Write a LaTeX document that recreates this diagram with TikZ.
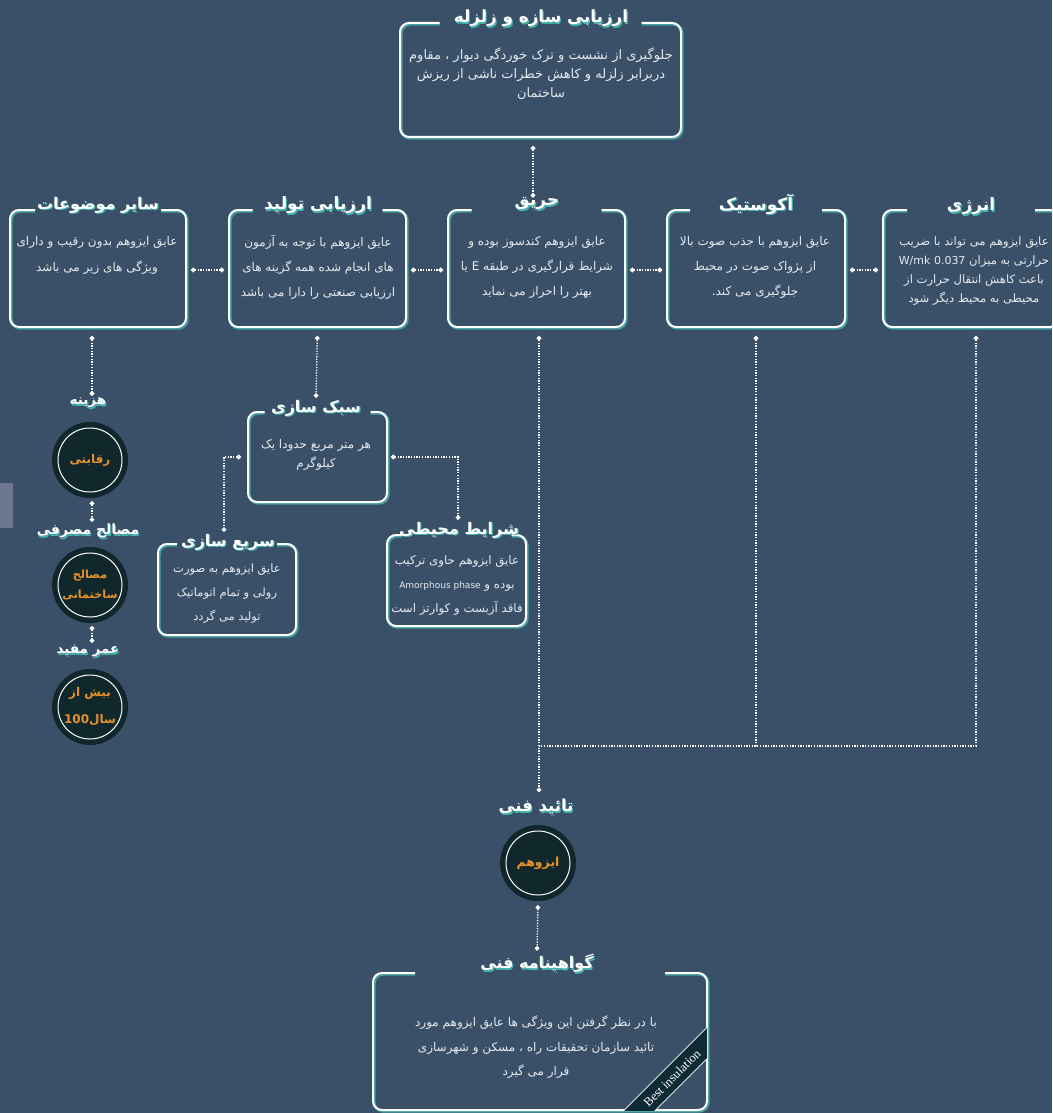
\documentclass[tikz,border=0pt]{standalone}
\usepackage{fontspec}
\usetikzlibrary{calc,arrows.meta}
\TeXXeTstate=1
\newfontfamily\arabicfont[Script=Arabic]{DejaVu Sans}
\newfontfamily\serifen{Liberation Serif}
\newcommand\fa[1]{\beginR #1\endR}
\definecolor{bg}{HTML}{3A5069}
\definecolor{glow}{HTML}{45B3AE}
\definecolor{circ}{HTML}{10282C}
\definecolor{orng}{HTML}{E8922B}
\definecolor{txt}{HTML}{E4EAEE}
\definecolor{graybar}{HTML}{6E7690}
\definecolor{ribbon}{HTML}{0E2A33}
\tikzset{
  boxn/.style={rectangle, inner sep=0pt, outer sep=0pt},
  frameglow/.style={draw=glow, line width=3pt, rounded corners=9pt, opacity=0.8},
  framew/.style={draw=white, line width=2pt, rounded corners=9pt},
  body/.style={font=\arabicfont\fontsize{12}{25}\selectfont, text=txt, align=center, inner sep=0pt},
  ttlstyle/.style={font=\arabicfont\bfseries\fontsize{16}{18}\selectfont, text=white, inner sep=1pt},
  ttlshadow/.style={font=\arabicfont\bfseries\fontsize{16}{18}\selectfont, text=glow, inner sep=1pt},
  conn/.style={draw=white, line width=1.3pt, dash pattern=on 1.3pt off 1.4pt},
  dotboth/.style={{Circle[length=4.5pt]}-{Circle[length=4.5pt]}},
  dotstart/.style={{Circle[length=4.5pt]}-},
  circn/.style={circle, fill=circ, minimum size=76pt, inner sep=0pt, text=orng, align=center,
    font=\arabicfont\bfseries\fontsize{12}{22}\selectfont,
    path picture={\draw[white, line width=1pt] (path picture bounding box.center) circle (32pt);}},
  ribbonst/.style={fill=ribbon, draw=white, line width=0.7pt, minimum width=220pt, minimum height=22pt,
    inner sep=0pt, text=white, font=\serifen\fontsize{12.5}{13}\selectfont}
}
\newcommand\gframe[2]{%
  \draw[frameglow] ($(#1.north)+(-#2,1.2)$) -- ($(#1.north west)+(1.2,1.2)$) -- ($(#1.south west)+(1.2,1.2)$) -- ($(#1.south east)+(1.2,1.2)$) -- ($(#1.north east)+(1.2,1.2)$) -- ($(#1.north)+(#2,1.2)$);
  \draw[framew] ($(#1.north)+(-#2,0)$) -- (#1.north west) -- (#1.south west) -- (#1.south east) -- (#1.north east) -- ($(#1.north)+(#2,0)$);
}
\newcommand\ttl[4][]{%
  \node[ttlshadow,#1] at ($(#3)+(1.2,1.8)$) {#4};
  \node[ttlstyle,#1] (#2) at (#3) {#4};
}
\begin{document}
\begin{tikzpicture}[x=1pt,y=-1pt]
\clip (0,0) rectangle (1052,1113);
\fill[bg] (0,0) rectangle (1052,1113);
\fill[graybar] (0,483) rectangle (13,528);

% ---------- boxes ----------
\node[boxn, minimum width=281pt, minimum height=114pt] (top) at (540.5,80) {};
\node[boxn, minimum width=176pt, minimum height=117pt] (b1) at (98,268.5) {};
\node[boxn, minimum width=177pt, minimum height=117pt] (b2) at (317.5,268.5) {};
\node[boxn, minimum width=177pt, minimum height=117pt] (b3) at (536.5,268.5) {};
\node[boxn, minimum width=178pt, minimum height=117pt] (b4) at (756,268.5) {};
\node[boxn, minimum width=176pt, minimum height=117pt] (b5) at (971,268.5) {};
\node[boxn, minimum width=139pt, minimum height=90pt] (sabok) at (317.5,457) {};
\node[boxn, minimum width=138pt, minimum height=91pt] (sari) at (227,589.5) {};
\node[boxn, minimum width=139pt, minimum height=91pt] (shar) at (456.5,580.5) {};
\node[boxn, minimum width=334pt, minimum height=137pt] (gbox) at (540,1041.5) {};

\gframe{top}{101}
\gframe{b1}{63}
\gframe{b2}{65}
\gframe{b3}{65}
\gframe{b4}{66}
\gframe{b5}{64}
\gframe{sabok}{53}
\gframe{sari}{50}
\gframe{shar}{55}
\gframe{gbox}{125}

% ---------- titles ----------
\ttl[font=\arabicfont\bfseries\fontsize{16.8}{19}\selectfont]{ttop}{541,18}{\beginR ارزیابی سازه و زلزله\endR}
\ttl{t1}{98,205}{\beginR سایر موضوعات\endR}
\ttl[font=\arabicfont\bfseries\fontsize{17}{19}\selectfont]{t2}{318,205}{\beginR ارزیابی تولید\endR}
\ttl[font=\arabicfont\bfseries\fontsize{17}{19}\selectfont]{t3}{537,204}{\beginR حریق\endR}
\ttl[font=\arabicfont\bfseries\fontsize{17}{19}\selectfont]{t4}{756,204}{\beginR آکوستیک\endR}
\ttl[font=\arabicfont\bfseries\fontsize{17}{19}\selectfont]{t5}{971,206}{\beginR انرژی\endR}
\ttl{tsabok}{316,408}{\beginR سبک سازی\endR}
\ttl{tsari}{228,542}{\beginR سریع سازی\endR}
\ttl{tshar}{459,530}{\beginR شرایط محیطی\endR}
\ttl[font=\arabicfont\bfseries\fontsize{13.5}{16}\selectfont]{thz}{88,403}{\beginR هزینه\endR}
\ttl[font=\arabicfont\bfseries\fontsize{14}{16}\selectfont]{tmm}{88,531}{\beginR مصالح مصرفی\endR}
\ttl[font=\arabicfont\bfseries\fontsize{13.5}{16}\selectfont]{tum}{88,651}{\beginR عمر مفید\endR}
\ttl[font=\arabicfont\bfseries\fontsize{16.5}{18}\selectfont]{ttaeed}{536,807}{\beginR تائید فنی\endR}
\ttl[font=\arabicfont\bfseries\fontsize{16}{18}\selectfont]{tgv}{537,963}{\beginR گواهینامه فنی\endR}

% ---------- body texts ----------
\node[body, font=\arabicfont\fontsize{13}{19}\selectfont] (xtop) at (541,73.5)
  {\beginR جلوگیری از نشست و ترک خوردگی دیوار ، مقاوم\endR\\\beginR دربرابر زلزله و کاهش خطرات ناشی از ریزش\endR\\\beginR ساختمان\endR};
\node[body, font=\arabicfont\fontsize{12}{26}\selectfont] (x1) at (97,255)
  {\beginR عایق ایزوهم بدون رقیب و دارای\endR\\\beginR ویژگی های زیر می باشد\endR};
\node[body] (x2) at (318,267)
  {\beginR عایق ایزوهم با توجه به آزمون\endR\\\beginR های انجام شده همه گزینه های\endR\\\beginR ارزیابی صنعتی را دارا می باشد\endR};
\node[body] (x3) at (537,267)
  {\beginR عایق ایزوهم کندسوز بوده و\endR\\\beginR شرایط قرارگیری در طبقه \beginL E\endL{} یا\endR\\\beginR بهتر را احراز می نماید\endR};
\node[body] (x4) at (755,267)
  {\beginR عایق ایزوهم با جذب صوت بالا\endR\\\beginR از پژواک صوت در محیط\endR\\\beginR جلوگیری می کند.\endR};
\node[body, font=\arabicfont\fontsize{11.6}{19.3}\selectfont] (x5) at (974,271)
  {\beginR عایق ایزوهم می تواند با ضریب\endR\\\beginR حرارتی به میزان \beginL{\fontsize{11}{19.3}\selectfont W/mk 0.037}\endL\endR\\\beginR باعث کاهش انتقال حرارت از\endR\\\beginR محیطی به محیط دیگر شود\endR};
\node[body, font=\arabicfont\fontsize{12}{19}\selectfont] (xsabok) at (316,454.5)
  {\beginR هر متر مربع حدودا یک\endR\\\beginR کیلوگرم\endR};
\node[body, font=\arabicfont\fontsize{11.5}{24}\selectfont] (xsari) at (227,594)
  {\beginR عایق ایزوهم به صورت\endR\\\beginR رولی و تمام اتوماتیک\endR\\\beginR تولید می گردد\endR};
\node[body, font=\arabicfont\fontsize{11.8}{24}\selectfont] (xshar) at (457,585)
  {\beginR عایق ایزوهم حاوی ترکیب\endR\\\beginR بوده و \beginL{\fontsize{9}{24}\selectfont Amorphous phase}\endL\endR\\\beginR فاقد آزبست و کوارتز است\endR};
\node[body, font=\arabicfont\fontsize{12}{24.5}\selectfont] (xg) at (536,1047.5)
  {\beginR با در نظر گرفتن این ویژگی ها عایق ایزوهم مورد\endR\\\beginR تائید سازمان تحقیقات راه ، مسکن و شهرسازی\endR\\\beginR قرار می گیرد\endR};

% ---------- circles ----------
\node[circn] (c1) at (90,460) {\beginR رقابتی\endR};
\node[circn, font=\arabicfont\bfseries\fontsize{11.2}{20}\selectfont] (c2) at (90,585) {\beginR مصالح\endR\\\beginR ساختمانی\endR};
\node[circn, font=\arabicfont\bfseries\fontsize{12}{27}\selectfont] (c3) at (90,707) {\beginR بیش از\endR\\\beginR سال\beginL 100\endL\endR};
\node[circn, font=\arabicfont\bfseries\fontsize{12.5}{14}\selectfont] (iz) at (538,863) {\beginR ایزوهم\endR};

% ---------- connectors ----------
\draw[conn, dotboth, shorten <=9pt, shorten >=-1pt] (top.south -| 533,0) -- (t3.north -| 533,0);
\foreach \a/\b in {b1/b2, b2/b3, b3/b4, b4/b5}
  \draw[conn, dotboth, shorten <=5pt, shorten >=5pt] ($(\a.east)+(0,1.5)$) -- ($(\b.west)+(0,1.5)$);
\draw[conn, dotboth, shorten <=9pt, shorten >=1pt] (b2.south) -- (tsabok.north);
\coordinate (sl) at (224,457);
\coordinate (sr) at (458,457);
\draw[conn, dotboth, shorten <=7pt, shorten >=1pt] (sabok.west) -- (sl) -- (sl |- tsari.north);
\draw[conn, dotboth, shorten <=4pt, shorten >=1pt] (sabok.east) -- (sr) -- (sr |- tshar.north);
\draw[conn, dotboth, shorten <=9pt, shorten >=1pt] (b1.south -| 92,0) -- (thz.north -| 92,0);
\draw[conn, dotboth, shorten <=3pt, shorten >=1pt] (c1.south -| 92,0) -- (tmm.north -| 92,0);
\draw[conn, dotboth, shorten <=3pt, shorten >=1pt] (c2.south -| 92,0) -- (tum.north -| 92,0);
\coordinate (hl) at (539,746);
\coordinate (ev) at (976,746);
\draw[conn, dotboth, shorten <=9pt, shorten >=6pt] (b3.south -| hl) -- (ttaeed.north -| hl);
\draw[conn, dotstart, shorten <=9pt] (b4.south) -- (b4.south |- hl);
\draw[conn, dotstart, shorten <=9pt] (b5.south -| ev) -- (ev) -- (hl);
\draw[conn, dotboth, shorten <=4pt, shorten >=2pt] (iz.south) -- (tgv.north);

% ---------- ribbon ----------
\begin{scope}
  \clip (gbox.south west) rectangle (gbox.north east);
  \node[ribbonst, rotate=45] (rb) at (672,1078) {Best insulation};
\end{scope}
\end{tikzpicture}
\end{document}
